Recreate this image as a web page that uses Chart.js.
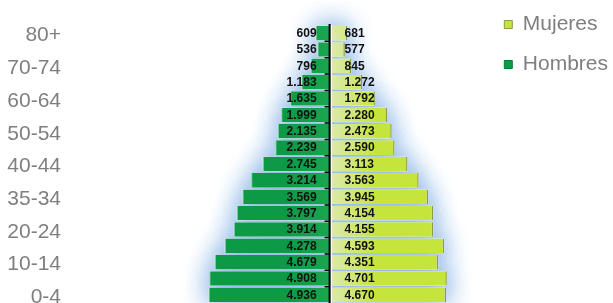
<!DOCTYPE html>
<html><head><meta charset="utf-8">
<script src="https://cdn.jsdelivr.net/npm/chart.js@4.4.1/dist/chart.umd.min.js"></script>
<style>html,body{margin:0;padding:0;background:#fff;overflow:hidden}#wrap{position:relative;width:613px;height:303px}</style>
</head><body><div id="wrap"><canvas id="c" width="613" height="303"></canvas></div>
<script>
const categories = ['0-4','5-9','10-14','15-19','20-24','25-29','30-34','35-39','40-44','45-49','50-54','55-59','60-64','65-69','70-74','75-79','80+'];
const tickLabels = ['0-4','','10-14','','20-24','','35-34','','40-44','','50-54','','60-64','','70-74','','80+'];
const hombres = [4936,4908,4679,4278,3914,3797,3569,3214,2745,2239,2135,1999,1635,1183,796,536,609];
const mujeres = [4670,4701,4351,4593,4155,4154,3945,3563,3113,2590,2473,2280,1792,1272,845,577,681];
const seriesNames = ['Mujeres','Hombres'];

const FONT = '"Liberation Sans", Arial, sans-serif';
function fmt(v){ return String(Math.abs(v)).replace(/\B(?=(\d{3})+(?!\d))/g,'.'); }

function mujGrad(ctx){
  const chart = ctx.chart;
  if(!chart.chartArea) return '#c5e53b';
  const x0 = chart.scales.x.getPixelForValue(0);
  const g = chart.ctx.createLinearGradient(x0,0,x0+45,0);
  g.addColorStop(0,'#dbeaae'); g.addColorStop(1,'#c6e53c');
  return g;
}
function homGrad(ctx){
  const chart = ctx.chart;
  if(!chart.chartArea) return '#0e9c48';
  const x0 = chart.scales.x.getPixelForValue(0);
  const g = chart.ctx.createLinearGradient(x0,0,x0-45,0);
  g.addColorStop(0,'#1ba64f'); g.addColorStop(1,'#0c9a47');
  return g;
}

const glow = {
  id:'glow',
  beforeDatasetsDraw(chart){
    const ctx = chart.ctx;
    ctx.save();
    ctx.shadowColor = 'rgba(140,180,230,0.9)';
    ctx.shadowBlur = 24;
    ctx.fillStyle = '#fff';
    for (let pass=0; pass<2; pass++){
      chart.data.datasets.forEach((ds,i)=>{
        chart.getDatasetMeta(i).data.forEach(el=>{
          const p = el.getProps(['x','y','base','height'],true);
          ctx.fillRect(Math.min(p.x,p.base), p.y-p.height/2, Math.abs(p.x-p.base), p.height);
        });
      });
    }
    ctx.restore();
  }
};

const labelsPlugin = {
  id:'vals',
  afterDatasetsDraw(chart){
    const ctx = chart.ctx;
    const x0 = chart.scales.x.getPixelForValue(0);
    const a = chart.chartArea;
    ctx.save();
    ctx.fillStyle = '#fff';
    ctx.fillRect(x0, a.top, 1.3, a.bottom - a.top);
    ctx.strokeStyle = '#000';
    ctx.lineWidth = 2;
    ctx.beginPath(); ctx.moveTo(x0 - 1, a.top - 1); ctx.lineTo(x0 - 1, a.bottom); ctx.stroke();
    const els = chart.getDatasetMeta(0).data;
    ctx.lineWidth = 1.5;
    ctx.beginPath();
    for (let j = 0; j < els.length - 1; j++){
      const yb = (els[j].y + els[j+1].y) / 2;
      ctx.moveTo(x0 - 6, yb); ctx.lineTo(x0 - 1, yb);
    }
    ctx.stroke();
    ctx.font = 'bold 12px ' + FONT;
    ctx.fillStyle = '#111';
    ctx.textBaseline = 'middle';
    chart.data.datasets.forEach((ds,i)=>{
      const left = ds.data[0] < 0;
      ctx.textAlign = left ? 'right' : 'left';
      chart.getDatasetMeta(i).data.forEach((el,j)=>{
        ctx.fillText(fmt(ds.data[j]), left ? x0-14 : x0+14, el.y+0.5);
      });
    });
    ctx.restore();
  }
};

new Chart(document.getElementById('c'), {
  type:'bar',
  data:{
    labels: categories,
    datasets:[
      {label: seriesNames[0], data: mujeres, backgroundColor: mujGrad,
       borderColor:'#8c9c44', borderWidth:{left:0,top:0,bottom:0,right:1.5}, borderSkipped:false,
       barPercentage:0.89, categoryPercentage:1},
      {label: seriesNames[1], data: hombres.map(v=>-v), backgroundColor: homGrad,
       borderColor:'#7cca95', borderWidth:{left:1,top:0,bottom:0,right:0}, borderSkipped:false,
       barPercentage:0.89, categoryPercentage:1}
    ]
  },
  options:{
    responsive:false, animation:false, devicePixelRatio:1,
    indexAxis:'y',
    layout:{padding:{top:-5,right:-5,left:0,bottom:0}},
    plugins:{
      tooltip:{enabled:false},
      legend:{
        position:'right', align:'start',
        labels:{
          boxWidth:8, boxHeight:8, padding:19, color:'#7f7f7f',
          font:{size:21, family:FONT},
          generateLabels(chart){
            return chart.data.datasets.map((ds,i)=>({
              text: ds.label, fillStyle: i===0 ? '#c6e53c' : '#0e9c48',
              strokeStyle: i===0 ? '#8c9c44' : '#0a7a38', lineWidth:1, hidden:false, datasetIndex:i,
              fontColor:'#7f7f7f'
            }));
          }
        }
      }
    },
    scales:{
      x:{stacked:true, position:'top', min:-10540, max:6257,
         ticks:{display:false}, grid:{display:false, drawTicks:false}, border:{display:false},
         afterFit(s){ s.height = 30; s.paddingLeft = 0; s.paddingRight = 0; }},
      y:{stacked:true, reverse:true,
         grid:{display:false, drawTicks:false}, border:{display:false},
         ticks:{autoSkip:false, color:'#7f7f7f', padding:9, labelOffset:2.5, font:{size:21, family:FONT},
                callback:(v,i)=>tickLabels[i]},
         afterFit(s){ s.width = 70; s.paddingTop = 0; s.paddingBottom = 0; }}
    }
  },
  plugins:[glow, labelsPlugin]
});
</script></body></html>
